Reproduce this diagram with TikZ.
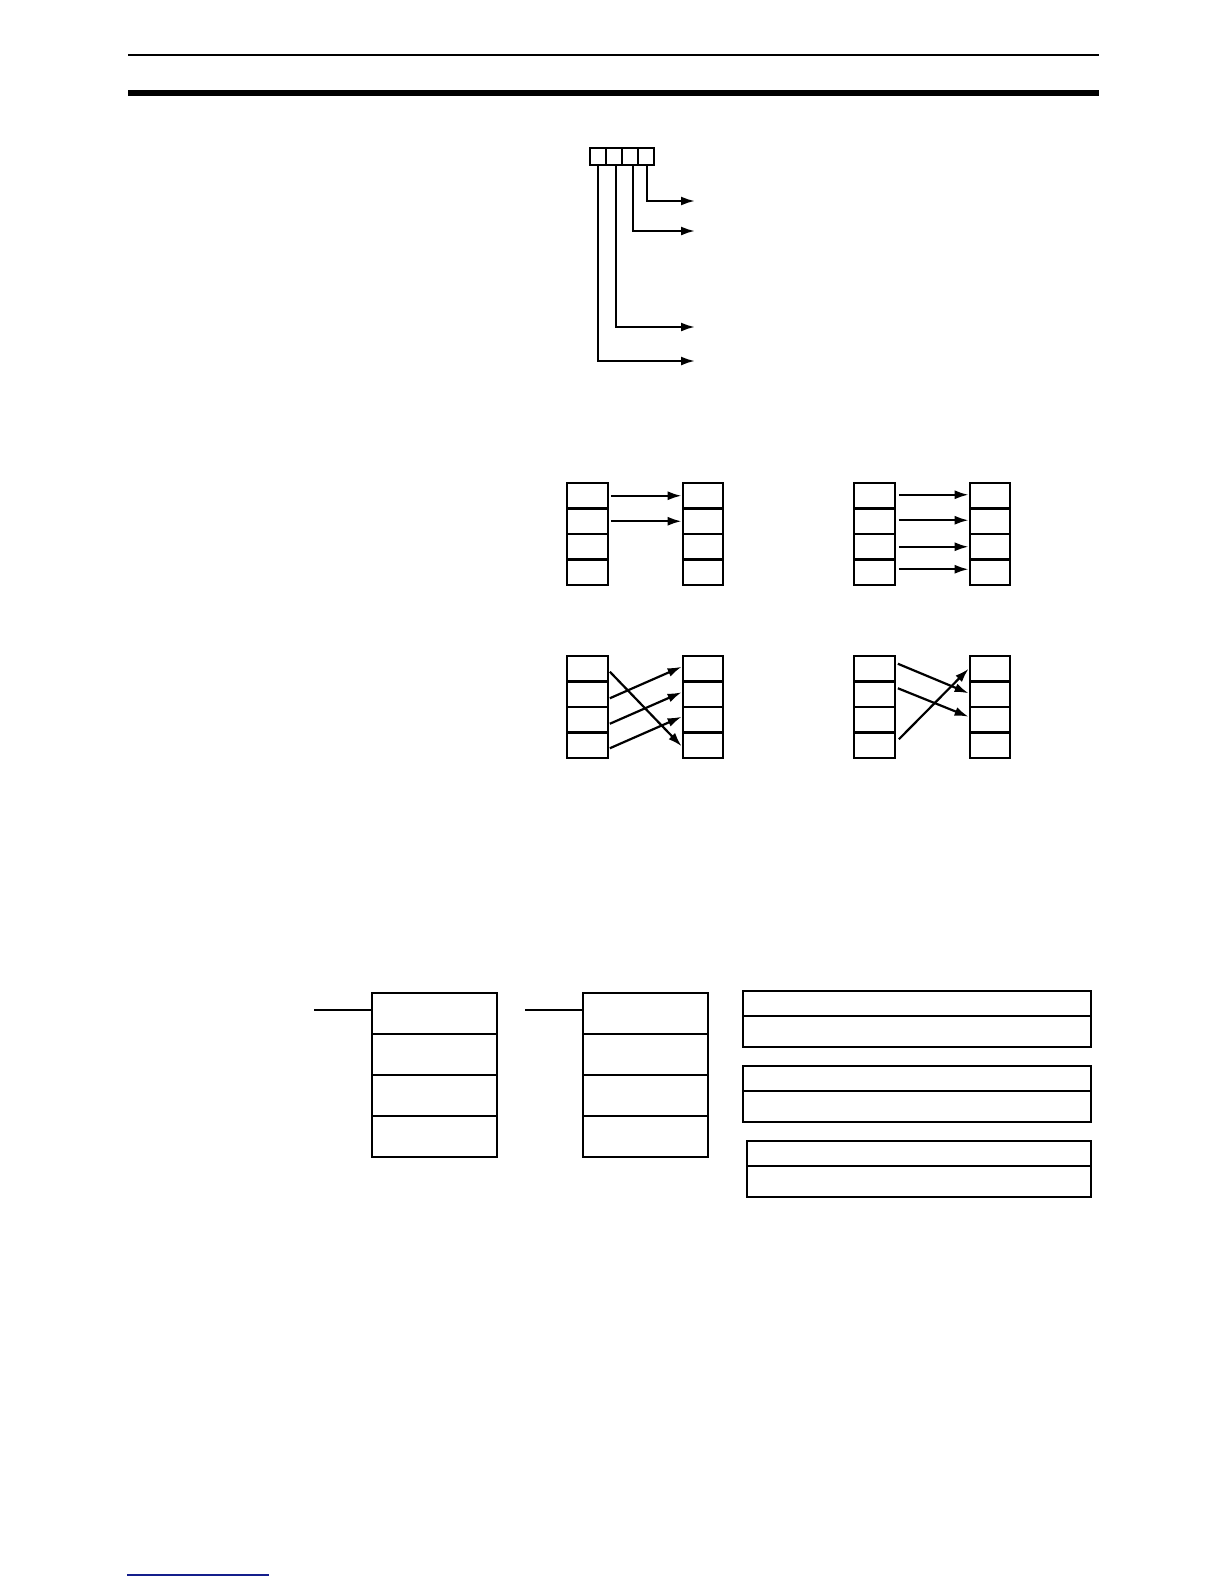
\documentclass[tikz,border=0pt]{standalone}
\usetikzlibrary{arrows.meta,calc}
\definecolor{footblue}{RGB}{20,30,140}
\tikzstyle{cell}=[rectangle, fill=white, draw=black, line width=2.2pt, inner sep=0pt, minimum width=40.5pt, minimum height=25.5pt, anchor=center]
\tikzstyle{bit}=[cell, minimum width=16pt, minimum height=17pt]
\tikzstyle{word}=[cell, minimum width=125pt, minimum height=41pt]
\tikzstyle{arr}=[line width=2.2pt, -{Latex[length=14pt,width=9pt]}]
\tikzstyle{plain}=[line width=2.2pt]
% one column of four cells: name, x of centre, y of top
\newcommand{\drawcolumn}[3]
{
  \node[cell](#1a) at (#2,#3+12.75){};
  \node[cell](#1b) at (#2,#3+38.25){};
  \node[cell](#1c) at (#2,#3+63.75){};
  \node[cell](#1d) at (#2,#3+89.25){};
}
% one wide box of two rows: name, x of left edge, y of top
\newcommand{\drawwide}[3]
{
  \node[cell, minimum width={(1091-#2)*1pt}, minimum height=25pt](#1top) at ({(#2+1091)/2},#3+12.5){};
  \node[cell, minimum width={(1091-#2)*1pt}, minimum height=31pt](#1bot) at ({(#2+1091)/2},#3+40.5){};
}

\begin{document}
\begin{tikzpicture}[x=1pt,y=-1pt]
	\useasboundingbox (0,0) rectangle (1224,1584);

	% page rules
	\draw[line width=2pt] (128,55) -- (1099,55);
	\draw[line width=6pt] (128,93) -- (1099,93);
	\draw[footblue, line width=2pt] (127,1575) -- (269,1575);

	% four bits
	\node[bit](bit1) at (598,156.5){};
	\node[bit](bit2) at (614,156.5){};
	\node[bit](bit3) at (630,156.5){};
	\node[bit](bit4) at (646,156.5){};
	\coordinate (out4) at (695,201);
	\coordinate (out3) at (695,231);
	\coordinate (out2) at (695,327);
	\coordinate (out1) at (695,361);
	\draw[arr] ([xshift=1pt]bit4.south) |- (out4);
	\draw[arr] ([xshift=3pt]bit3.south) |- (out3);
	\draw[arr] ([xshift=2pt]bit2.south) |- (out2);
	\draw[arr] (bit1.south) |- (out1);

	% transfer patterns
	\drawcolumn{sa}{587.5}{483}
	\drawcolumn{da}{703}{483}
	\drawcolumn{sb}{874.5}{483}
	\drawcolumn{db}{990}{483}
	\drawcolumn{sc}{587.5}{656}
	\drawcolumn{dc}{703}{656}
	\drawcolumn{sd}{874.5}{656}
	\drawcolumn{dd}{990}{656}

	\draw[arr] ([xshift=2pt]saa.east) -- (daa.west);
	\draw[arr] ([xshift=2pt]sab.east) -- (dab.west);

	\draw[arr] ([xshift=3pt,yshift=1pt]sba.east) -- ([yshift=1pt]dba.west);
	\draw[arr] ([xshift=3pt,yshift=1pt]sbb.east) -- ([yshift=1pt]dbb.west);
	\draw[arr] ([xshift=3pt]sbc.east) -- (dbc.west);
	\draw[arr] ([xshift=3pt,yshift=3pt]sbd.east) -- ([yshift=3pt]dbd.west);

	\draw[arr] ([xshift=1pt,yshift=-3pt]sca.east) -- ([yshift=-1pt]dcd.west);
	\draw[arr] ([xshift=1pt,yshift=-4pt]scb.east) -- ([yshift=2pt]dca.west);
	\draw[arr] ([xshift=1pt,yshift=-4pt]scc.east) -- ([yshift=2pt]dcb.west);
	\draw[arr] ([xshift=1pt,yshift=-3pt]scd.east) -- ([yshift=3pt]dcc.west);

	\draw[arr] ([xshift=2pt,yshift=5pt]sda.east) -- ([yshift=1pt]ddb.west);
	\draw[arr] ([xshift=2pt,yshift=6pt]sdb.east) -- ([yshift=3pt]ddc.west);
	\draw[arr] ([xshift=3pt,yshift=6pt]sdd.east) -- (dda.west);

	% operand words
	\node[word](wa1) at (434.5,1013.5){};
	\node[word](wa2) at (434.5,1054.5){};
	\node[word](wa3) at (434.5,1095.5){};
	\node[word](wa4) at (434.5,1136.5){};
	\node[word](wb1) at (645.5,1013.5){};
	\node[word](wb2) at (645.5,1054.5){};
	\node[word](wb3) at (645.5,1095.5){};
	\node[word](wb4) at (645.5,1136.5){};
	\coordinate (ina) at (314,1010);
	\coordinate (inb) at (525,1010);
	\draw[plain] (ina) -- (ina -| wa1.west);
	\draw[plain] (inb) -- (inb -| wb1.west);

	% data areas
	\drawwide{ra}{743}{991}
	\drawwide{rb}{743}{1066}
	\drawwide{rc}{747}{1141}

\end{tikzpicture}
\end{document}
